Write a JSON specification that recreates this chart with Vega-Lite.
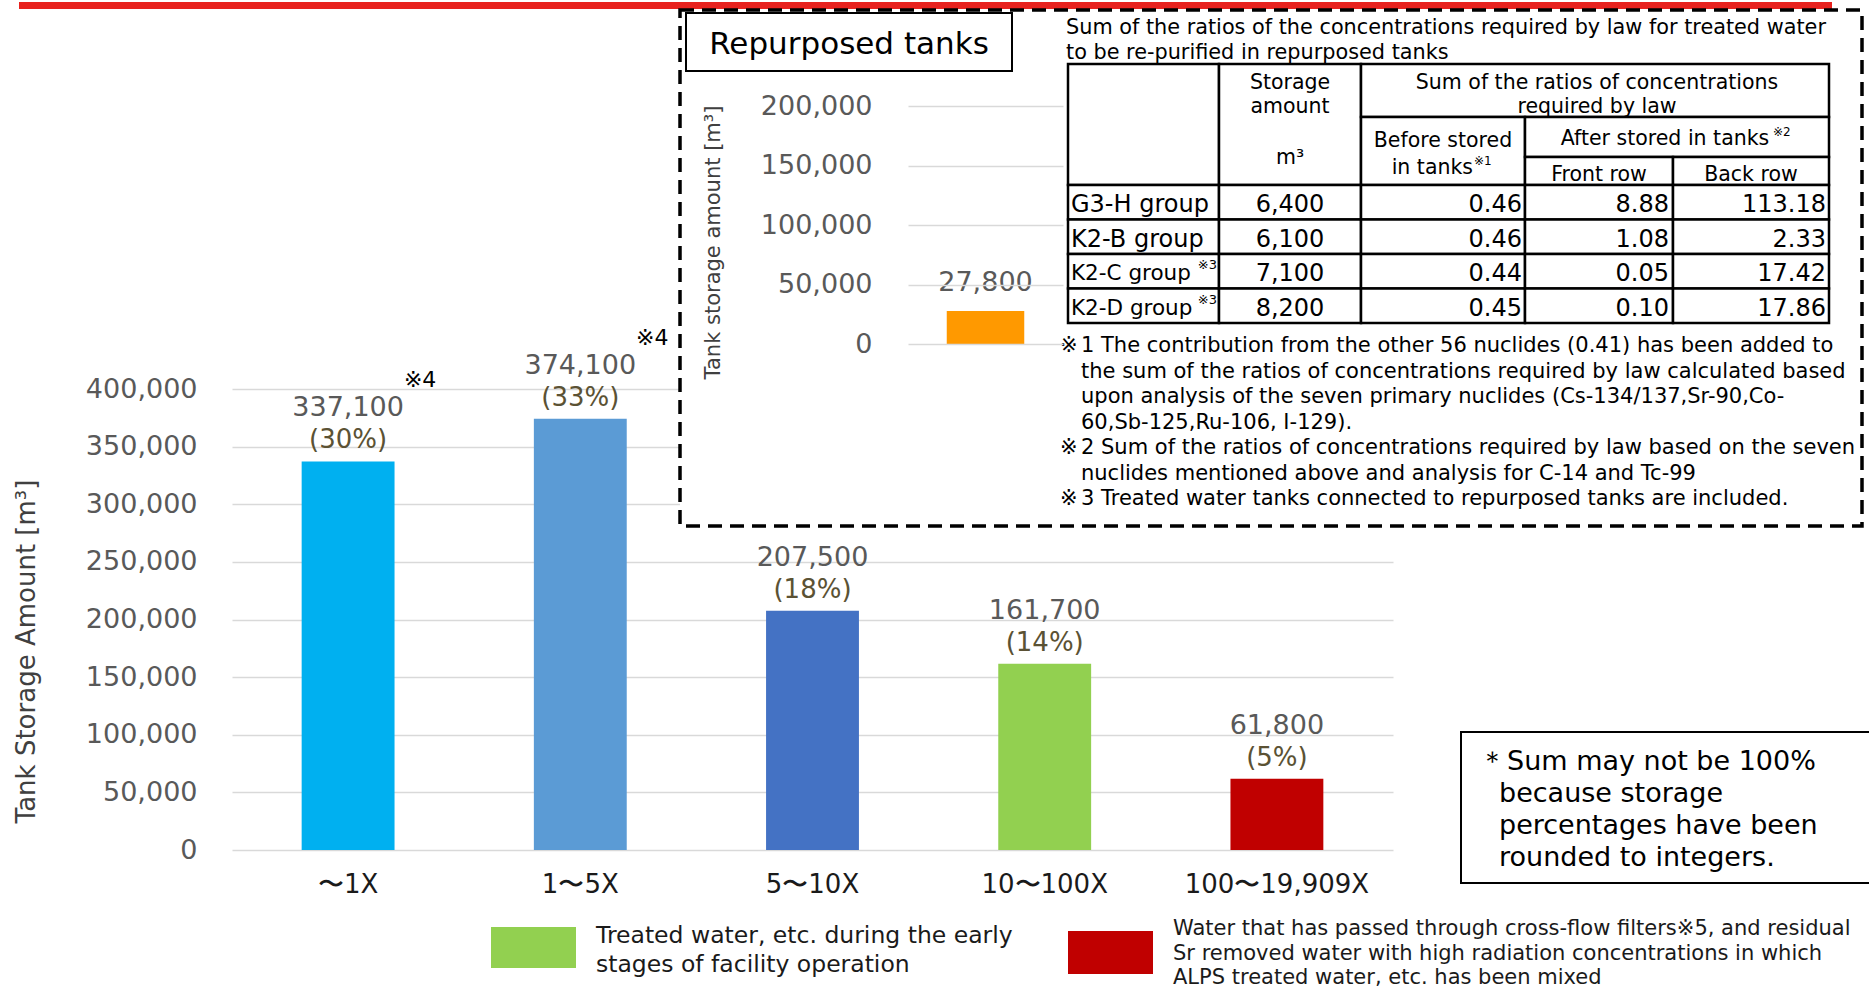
{
  "$schema": "https://vega.github.io/schema/vega-lite/v6.json",
  "width": 1161,
  "height": 461,
  "autosize": {"type": "none"},
  "padding": {"left": 232, "top": 389, "right": 476, "bottom": 138},
  "background": "white",
  "config": {"view": {"stroke": null}, "font": "DejaVu Sans", "text": {"font": "DejaVu Sans", "color": "black"}},
  "datasets": {
    "bars": [
      {"range": "〜1X", "amount": 337100, "share": "(30%)", "note": "※4"},
      {"range": "1〜5X", "amount": 374100, "share": "(33%)", "note": "※4"},
      {"range": "5〜10X", "amount": 207500, "share": "(18%)", "note": ""},
      {"range": "10〜100X", "amount": 161700, "share": "(14%)", "note": ""},
      {"range": "100〜19,909X", "amount": 61800, "share": "(5%)", "note": ""}
    ],
    "repurposed": [{"tanks": "Repurposed tanks", "amount": 27800}],
    "groups": [
      {"group": "G3-H group", "sup": "", "storage": 6400, "before": 0.46, "front": 8.88, "back": 113.18},
      {"group": "K2-B group", "sup": "", "storage": 6100, "before": 0.46, "front": 1.08, "back": 2.33},
      {"group": "K2-C group", "sup": "※3", "storage": 7100, "before": 0.44, "front": 0.05, "back": 17.42},
      {"group": "K2-D group", "sup": "※3", "storage": 8200, "before": 0.45, "front": 0.10, "back": 17.86}
    ]
  },
  "resolve": {"scale": {"x": "independent", "y": "independent", "color": "independent", "size": "independent"}, "axis": {"x": "independent", "y": "independent"}},
  "layer": [
    {
      "data": {"name": "bars"},
      "encoding": {
        "x": {"field": "range", "type": "nominal", "sort": null, "scale": {"paddingInner": 0.6, "paddingOuter": 0.3},
          "axis": {"orient": "bottom", "title": null, "labelAngle": 0, "labelFontSize": 26, "labelColor": "#1a1a1a", "labelPadding": 21, "labelLimit": 0, "domain": false, "ticks": false}},
        "y": {"field": "amount", "type": "quantitative", "scale": {"domain": [0, 400000], "nice": false},
          "axis": {"orient": "left", "values": [0, 50000, 100000, 150000, 200000, 250000, 300000, 350000, 400000], "format": ",d", "grid": true, "gridColor": "#d9d9d9", "gridWidth": 1.5, "domain": false, "ticks": false, "labelFontSize": 27, "labelColor": "#595959", "labelPadding": 35, "title": "Tank Storage Amount [m³]", "titleFontSize": 26, "titleFontWeight": "normal", "titleColor": "#404040", "titleX": -206, "titleY": 262, "titleAngle": 270, "titleAlign": "center", "titleBaseline": "middle"}}
      },
      "layer": [
        {"mark": {"type": "bar"}, "encoding": {"color": {"field": "range", "type": "nominal", "sort": null, "scale": {"domain": ["〜1X", "1〜5X", "5〜10X", "10〜100X", "100〜19,909X"], "range": ["#00B0F0", "#5B9BD5", "#4472C4", "#92D050", "#C00000"]}, "legend": null}}},
        {"mark": {"type": "text", "baseline": "middle", "dy": -53, "fontSize": 27, "color": "#595959"}, "encoding": {"text": {"field": "amount", "type": "quantitative", "format": ",d"}}},
        {"mark": {"type": "text", "baseline": "middle", "dy": -21, "fontSize": 26, "color": "#5b5234"}, "encoding": {"text": {"field": "share", "type": "nominal"}}},
        {"mark": {"type": "text", "baseline": "middle", "dx": 72, "dy": -81, "fontSize": 22, "color": "black"}, "encoding": {"text": {"field": "note", "type": "nominal"}}}
      ]
    },
    {
      "data": {"values": [{}]},
      "layer": [
        {"mark": {"type": "rule", "color": "#E8221E", "strokeWidth": 7},
          "encoding": {"x": {"datum": 19, "type": "quantitative", "scale": {"domain": [0, 1869], "range": [-232, 1637], "zero": false, "nice": false}, "axis": null}, "x2": {"datum": 1832},
            "y": {"datum": 5.5, "type": "quantitative", "scale": {"domain": [0, 988], "range": [-389, 599], "zero": false, "nice": false}, "axis": null}}},
        {"mark": {"type": "rect", "fill": "white", "stroke": "black", "strokeWidth": 3.5, "strokeDash": [14, 8]},
          "encoding": {"x": {"datum": 680, "type": "quantitative", "scale": {"domain": [0, 1869], "range": [-232, 1637], "zero": false, "nice": false}, "axis": null}, "x2": {"datum": 1862},
            "y": {"datum": 10, "type": "quantitative", "scale": {"domain": [0, 988], "range": [-389, 599], "zero": false, "nice": false}, "axis": null}, "y2": {"datum": 526}}},
        {"mark": {"type": "rect", "fill": "white", "stroke": "black", "strokeWidth": 2},
          "encoding": {"x": {"datum": 686, "type": "quantitative", "scale": {"domain": [0, 1869], "range": [-232, 1637], "zero": false, "nice": false}, "axis": null}, "x2": {"datum": 1012},
            "y": {"datum": 13, "type": "quantitative", "scale": {"domain": [0, 988], "range": [-389, 599], "zero": false, "nice": false}, "axis": null}, "y2": {"datum": 71}}},
        {"mark": {"type": "text", "text": "Repurposed tanks", "align": "center", "baseline": "middle", "fontSize": 31, "color": "black"},
          "encoding": {"x": {"datum": 849, "type": "quantitative", "scale": {"domain": [0, 1869], "range": [-232, 1637], "zero": false, "nice": false}, "axis": null},
            "y": {"datum": 45, "type": "quantitative", "scale": {"domain": [0, 988], "range": [-389, 599], "zero": false, "nice": false}, "axis": null}}},
        {"mark": {"type": "text", "text": ["Sum of the ratios of the concentrations required by law for treated water", "to be re-purified in repurposed tanks"], "align": "left", "baseline": "alphabetic", "fontSize": 20.8, "lineHeight": 24.5, "color": "black"},
          "encoding": {"x": {"datum": 1066, "type": "quantitative", "scale": {"domain": [0, 1869], "range": [-232, 1637], "zero": false, "nice": false}, "axis": null},
            "y": {"datum": 34, "type": "quantitative", "scale": {"domain": [0, 988], "range": [-389, 599], "zero": false, "nice": false}, "axis": null}}},
        {"mark": {"type": "rect", "fill": "white", "stroke": "black", "strokeWidth": 2.5},
          "encoding": {"x": {"datum": 1068, "type": "quantitative", "scale": {"domain": [0, 1869], "range": [-232, 1637], "zero": false, "nice": false}, "axis": null}, "x2": {"datum": 1219},
            "y": {"datum": 64, "type": "quantitative", "scale": {"domain": [0, 988], "range": [-389, 599], "zero": false, "nice": false}, "axis": null}, "y2": {"datum": 185}}},
        {"mark": {"type": "rect", "fill": "white", "stroke": "black", "strokeWidth": 2.5},
          "encoding": {"x": {"datum": 1219, "type": "quantitative", "scale": {"domain": [0, 1869], "range": [-232, 1637], "zero": false, "nice": false}, "axis": null}, "x2": {"datum": 1361},
            "y": {"datum": 64, "type": "quantitative", "scale": {"domain": [0, 988], "range": [-389, 599], "zero": false, "nice": false}, "axis": null}, "y2": {"datum": 185}}},
        {"mark": {"type": "rect", "fill": "white", "stroke": "black", "strokeWidth": 2.5},
          "encoding": {"x": {"datum": 1361, "type": "quantitative", "scale": {"domain": [0, 1869], "range": [-232, 1637], "zero": false, "nice": false}, "axis": null}, "x2": {"datum": 1829},
            "y": {"datum": 64, "type": "quantitative", "scale": {"domain": [0, 988], "range": [-389, 599], "zero": false, "nice": false}, "axis": null}, "y2": {"datum": 117}}},
        {"mark": {"type": "rect", "fill": "white", "stroke": "black", "strokeWidth": 2.5},
          "encoding": {"x": {"datum": 1361, "type": "quantitative", "scale": {"domain": [0, 1869], "range": [-232, 1637], "zero": false, "nice": false}, "axis": null}, "x2": {"datum": 1525},
            "y": {"datum": 117, "type": "quantitative", "scale": {"domain": [0, 988], "range": [-389, 599], "zero": false, "nice": false}, "axis": null}, "y2": {"datum": 185}}},
        {"mark": {"type": "rect", "fill": "white", "stroke": "black", "strokeWidth": 2.5},
          "encoding": {"x": {"datum": 1525, "type": "quantitative", "scale": {"domain": [0, 1869], "range": [-232, 1637], "zero": false, "nice": false}, "axis": null}, "x2": {"datum": 1829},
            "y": {"datum": 117, "type": "quantitative", "scale": {"domain": [0, 988], "range": [-389, 599], "zero": false, "nice": false}, "axis": null}, "y2": {"datum": 157}}},
        {"mark": {"type": "rect", "fill": "white", "stroke": "black", "strokeWidth": 2.5},
          "encoding": {"x": {"datum": 1525, "type": "quantitative", "scale": {"domain": [0, 1869], "range": [-232, 1637], "zero": false, "nice": false}, "axis": null}, "x2": {"datum": 1673},
            "y": {"datum": 157, "type": "quantitative", "scale": {"domain": [0, 988], "range": [-389, 599], "zero": false, "nice": false}, "axis": null}, "y2": {"datum": 185}}},
        {"mark": {"type": "rect", "fill": "white", "stroke": "black", "strokeWidth": 2.5},
          "encoding": {"x": {"datum": 1673, "type": "quantitative", "scale": {"domain": [0, 1869], "range": [-232, 1637], "zero": false, "nice": false}, "axis": null}, "x2": {"datum": 1829},
            "y": {"datum": 157, "type": "quantitative", "scale": {"domain": [0, 988], "range": [-389, 599], "zero": false, "nice": false}, "axis": null}, "y2": {"datum": 185}}},
        {"mark": {"type": "text", "text": ["Storage", "amount"], "align": "center", "baseline": "alphabetic", "fontSize": 20.5, "lineHeight": 24, "color": "black"},
          "encoding": {"x": {"datum": 1290, "type": "quantitative", "scale": {"domain": [0, 1869], "range": [-232, 1637], "zero": false, "nice": false}, "axis": null},
            "y": {"datum": 89, "type": "quantitative", "scale": {"domain": [0, 988], "range": [-389, 599], "zero": false, "nice": false}, "axis": null}}},
        {"mark": {"type": "text", "text": "m³", "align": "center", "baseline": "alphabetic", "fontSize": 20.5, "color": "black"},
          "encoding": {"x": {"datum": 1290, "type": "quantitative", "scale": {"domain": [0, 1869], "range": [-232, 1637], "zero": false, "nice": false}, "axis": null},
            "y": {"datum": 164, "type": "quantitative", "scale": {"domain": [0, 988], "range": [-389, 599], "zero": false, "nice": false}, "axis": null}}},
        {"mark": {"type": "text", "text": ["Sum of the ratios of concentrations", "required by law"], "align": "center", "baseline": "alphabetic", "fontSize": 20.5, "lineHeight": 24, "color": "black"},
          "encoding": {"x": {"datum": 1597, "type": "quantitative", "scale": {"domain": [0, 1869], "range": [-232, 1637], "zero": false, "nice": false}, "axis": null},
            "y": {"datum": 89, "type": "quantitative", "scale": {"domain": [0, 988], "range": [-389, 599], "zero": false, "nice": false}, "axis": null}}},
        {"mark": {"type": "text", "text": "Before stored", "align": "center", "baseline": "alphabetic", "fontSize": 20.5, "color": "black"},
          "encoding": {"x": {"datum": 1443, "type": "quantitative", "scale": {"domain": [0, 1869], "range": [-232, 1637], "zero": false, "nice": false}, "axis": null},
            "y": {"datum": 147, "type": "quantitative", "scale": {"domain": [0, 988], "range": [-389, 599], "zero": false, "nice": false}, "axis": null}}},
        {"mark": {"type": "text", "text": "in tanks", "align": "right", "baseline": "alphabetic", "fontSize": 20.5, "color": "black"},
          "encoding": {"x": {"datum": 1473, "type": "quantitative", "scale": {"domain": [0, 1869], "range": [-232, 1637], "zero": false, "nice": false}, "axis": null},
            "y": {"datum": 174, "type": "quantitative", "scale": {"domain": [0, 988], "range": [-389, 599], "zero": false, "nice": false}, "axis": null}}},
        {"mark": {"type": "text", "text": "※1", "align": "left", "baseline": "alphabetic", "fontSize": 12, "color": "black"},
          "encoding": {"x": {"datum": 1474, "type": "quantitative", "scale": {"domain": [0, 1869], "range": [-232, 1637], "zero": false, "nice": false}, "axis": null},
            "y": {"datum": 165, "type": "quantitative", "scale": {"domain": [0, 988], "range": [-389, 599], "zero": false, "nice": false}, "axis": null}}},
        {"mark": {"type": "text", "text": "After stored in tanks", "align": "center", "baseline": "alphabetic", "fontSize": 20.5, "color": "black"},
          "encoding": {"x": {"datum": 1665, "type": "quantitative", "scale": {"domain": [0, 1869], "range": [-232, 1637], "zero": false, "nice": false}, "axis": null},
            "y": {"datum": 145, "type": "quantitative", "scale": {"domain": [0, 988], "range": [-389, 599], "zero": false, "nice": false}, "axis": null}}},
        {"mark": {"type": "text", "text": "※2", "align": "left", "baseline": "alphabetic", "fontSize": 12, "color": "black"},
          "encoding": {"x": {"datum": 1773, "type": "quantitative", "scale": {"domain": [0, 1869], "range": [-232, 1637], "zero": false, "nice": false}, "axis": null},
            "y": {"datum": 136, "type": "quantitative", "scale": {"domain": [0, 988], "range": [-389, 599], "zero": false, "nice": false}, "axis": null}}},
        {"mark": {"type": "text", "text": "Front row", "align": "center", "baseline": "alphabetic", "fontSize": 20.5, "color": "black"},
          "encoding": {"x": {"datum": 1599, "type": "quantitative", "scale": {"domain": [0, 1869], "range": [-232, 1637], "zero": false, "nice": false}, "axis": null},
            "y": {"datum": 181, "type": "quantitative", "scale": {"domain": [0, 988], "range": [-389, 599], "zero": false, "nice": false}, "axis": null}}},
        {"mark": {"type": "text", "text": "Back row", "align": "center", "baseline": "alphabetic", "fontSize": 20.5, "color": "black"},
          "encoding": {"x": {"datum": 1751, "type": "quantitative", "scale": {"domain": [0, 1869], "range": [-232, 1637], "zero": false, "nice": false}, "axis": null},
            "y": {"datum": 181, "type": "quantitative", "scale": {"domain": [0, 988], "range": [-389, 599], "zero": false, "nice": false}, "axis": null}}},
        {"mark": {"type": "text", "text": "※", "align": "left", "baseline": "alphabetic", "fontSize": 21, "color": "black"},
          "encoding": {"x": {"datum": 1060, "type": "quantitative", "scale": {"domain": [0, 1869], "range": [-232, 1637], "zero": false, "nice": false}, "axis": null},
            "y": {"datum": 352, "type": "quantitative", "scale": {"domain": [0, 988], "range": [-389, 599], "zero": false, "nice": false}, "axis": null}}},
        {"mark": {"type": "text", "text": "※", "align": "left", "baseline": "alphabetic", "fontSize": 21, "color": "black"},
          "encoding": {"x": {"datum": 1060, "type": "quantitative", "scale": {"domain": [0, 1869], "range": [-232, 1637], "zero": false, "nice": false}, "axis": null},
            "y": {"datum": 454, "type": "quantitative", "scale": {"domain": [0, 988], "range": [-389, 599], "zero": false, "nice": false}, "axis": null}}},
        {"mark": {"type": "text", "text": "※", "align": "left", "baseline": "alphabetic", "fontSize": 21, "color": "black"},
          "encoding": {"x": {"datum": 1060, "type": "quantitative", "scale": {"domain": [0, 1869], "range": [-232, 1637], "zero": false, "nice": false}, "axis": null},
            "y": {"datum": 505, "type": "quantitative", "scale": {"domain": [0, 988], "range": [-389, 599], "zero": false, "nice": false}, "axis": null}}},
        {"mark": {"type": "text", "text": ["1 The contribution from the other 56 nuclides (0.41) has been added to", "the sum of the ratios of concentrations required by law calculated based", "upon analysis of the seven primary nuclides (Cs-134/137,Sr-90,Co-", "60,Sb-125,Ru-106, I-129).", "2 Sum of the ratios of concentrations required by law based on the seven", "nuclides mentioned above and analysis for C-14 and Tc-99", "3 Treated water tanks connected to repurposed tanks are included."], "align": "left", "baseline": "alphabetic", "fontSize": 21, "lineHeight": 25.5, "color": "black"},
          "encoding": {"x": {"datum": 1081, "type": "quantitative", "scale": {"domain": [0, 1869], "range": [-232, 1637], "zero": false, "nice": false}, "axis": null},
            "y": {"datum": 352, "type": "quantitative", "scale": {"domain": [0, 988], "range": [-389, 599], "zero": false, "nice": false}, "axis": null}}},
        {"mark": {"type": "rect", "fill": "white", "stroke": "black", "strokeWidth": 2},
          "encoding": {"x": {"datum": 1461, "type": "quantitative", "scale": {"domain": [0, 1869], "range": [-232, 1637], "zero": false, "nice": false}, "axis": null}, "x2": {"datum": 1880},
            "y": {"datum": 732, "type": "quantitative", "scale": {"domain": [0, 988], "range": [-389, 599], "zero": false, "nice": false}, "axis": null}, "y2": {"datum": 883}}},
        {"mark": {"type": "text", "text": "＊", "align": "left", "baseline": "alphabetic", "fontSize": 27, "color": "black"},
          "encoding": {"x": {"datum": 1479, "type": "quantitative", "scale": {"domain": [0, 1869], "range": [-232, 1637], "zero": false, "nice": false}, "axis": null},
            "y": {"datum": 770, "type": "quantitative", "scale": {"domain": [0, 988], "range": [-389, 599], "zero": false, "nice": false}, "axis": null}}},
        {"mark": {"type": "text", "text": "Sum may not be 100%", "align": "left", "baseline": "alphabetic", "fontSize": 27, "color": "black"},
          "encoding": {"x": {"datum": 1507, "type": "quantitative", "scale": {"domain": [0, 1869], "range": [-232, 1637], "zero": false, "nice": false}, "axis": null},
            "y": {"datum": 770, "type": "quantitative", "scale": {"domain": [0, 988], "range": [-389, 599], "zero": false, "nice": false}, "axis": null}}},
        {"mark": {"type": "text", "text": ["because storage", "percentages have been", "rounded to integers."], "align": "left", "baseline": "alphabetic", "fontSize": 27, "lineHeight": 32, "color": "black"},
          "encoding": {"x": {"datum": 1499, "type": "quantitative", "scale": {"domain": [0, 1869], "range": [-232, 1637], "zero": false, "nice": false}, "axis": null},
            "y": {"datum": 802, "type": "quantitative", "scale": {"domain": [0, 988], "range": [-389, 599], "zero": false, "nice": false}, "axis": null}}},
        {"mark": {"type": "rect", "fill": "#92D050"},
          "encoding": {"x": {"datum": 491, "type": "quantitative", "scale": {"domain": [0, 1869], "range": [-232, 1637], "zero": false, "nice": false}, "axis": null}, "x2": {"datum": 576},
            "y": {"datum": 927, "type": "quantitative", "scale": {"domain": [0, 988], "range": [-389, 599], "zero": false, "nice": false}, "axis": null}, "y2": {"datum": 968}}},
        {"mark": {"type": "text", "text": ["Treated water, etc. during the early", "stages of facility operation"], "align": "left", "baseline": "alphabetic", "fontSize": 23.5, "lineHeight": 28.5, "color": "#1a1a1a"},
          "encoding": {"x": {"datum": 596, "type": "quantitative", "scale": {"domain": [0, 1869], "range": [-232, 1637], "zero": false, "nice": false}, "axis": null},
            "y": {"datum": 943, "type": "quantitative", "scale": {"domain": [0, 988], "range": [-389, 599], "zero": false, "nice": false}, "axis": null}}},
        {"mark": {"type": "rect", "fill": "#C00000"},
          "encoding": {"x": {"datum": 1068, "type": "quantitative", "scale": {"domain": [0, 1869], "range": [-232, 1637], "zero": false, "nice": false}, "axis": null}, "x2": {"datum": 1153},
            "y": {"datum": 931, "type": "quantitative", "scale": {"domain": [0, 988], "range": [-389, 599], "zero": false, "nice": false}, "axis": null}, "y2": {"datum": 974}}},
        {"mark": {"type": "text", "text": ["Water that has passed through cross-flow filters※5, and residual", "Sr removed water with high radiation concentrations in which", "ALPS treated water, etc. has been mixed"], "align": "left", "baseline": "alphabetic", "fontSize": 21, "lineHeight": 24.5, "color": "#1a1a1a"},
          "encoding": {"x": {"datum": 1173, "type": "quantitative", "scale": {"domain": [0, 1869], "range": [-232, 1637], "zero": false, "nice": false}, "axis": null},
            "y": {"datum": 935, "type": "quantitative", "scale": {"domain": [0, 988], "range": [-389, 599], "zero": false, "nice": false}, "axis": null}}}
      ]
    },
    {
      "data": {"name": "repurposed"},
      "encoding": {
        "x": {"field": "tanks", "type": "nominal", "scale": {"range": [676, 831], "paddingInner": 0.5, "paddingOuter": 0.25}, "axis": null},
        "y": {"field": "amount", "type": "quantitative", "scale": {"domain": [0, 200000], "range": [-45, -283], "nice": false},
          "axis": {"orient": "left", "offset": -676, "values": [0, 50000, 100000, 150000, 200000], "format": ",d", "grid": true, "gridColor": "#d9d9d9", "gridWidth": 1.5, "domain": false, "ticks": false, "labelFontSize": 27, "labelColor": "#595959", "labelPadding": 36, "title": "Tank storage amount [m³]", "titleFontSize": 21, "titleFontWeight": "normal", "titleColor": "#404040", "titleX": -195, "titleY": -147, "titleAngle": 270, "titleAlign": "center", "titleBaseline": "middle", "zindex": 1}}
      },
      "layer": [
        {"mark": {"type": "bar", "color": "#FF9900"}},
        {"mark": {"type": "text", "baseline": "middle", "dy": -28, "fontSize": 27, "color": "#595959"}, "encoding": {"text": {"field": "amount", "type": "quantitative", "format": ",d"}}}
      ]
    },
    {
      "data": {"name": "groups"},
      "encoding": {
        "y": {"field": "group", "type": "nominal", "sort": null, "scale": {"domain": ["G3-H group", "K2-B group", "K2-C group", "K2-D group"], "range": [-204, -66], "paddingInner": 0, "paddingOuter": 0}, "axis": null}
      },
      "layer": [
        {"mark": {"type": "rect", "fill": "white", "stroke": "black", "strokeWidth": 2.5},
          "encoding": {"x": {"datum": 1068, "type": "quantitative", "scale": {"domain": [0, 1869], "range": [-232, 1637], "zero": false, "nice": false}, "axis": null}, "x2": {"datum": 1219}}},
        {"mark": {"type": "rect", "fill": "white", "stroke": "black", "strokeWidth": 2.5},
          "encoding": {"x": {"datum": 1219, "type": "quantitative", "scale": {"domain": [0, 1869], "range": [-232, 1637], "zero": false, "nice": false}, "axis": null}, "x2": {"datum": 1361}}},
        {"mark": {"type": "rect", "fill": "white", "stroke": "black", "strokeWidth": 2.5},
          "encoding": {"x": {"datum": 1361, "type": "quantitative", "scale": {"domain": [0, 1869], "range": [-232, 1637], "zero": false, "nice": false}, "axis": null}, "x2": {"datum": 1525}}},
        {"mark": {"type": "rect", "fill": "white", "stroke": "black", "strokeWidth": 2.5},
          "encoding": {"x": {"datum": 1525, "type": "quantitative", "scale": {"domain": [0, 1869], "range": [-232, 1637], "zero": false, "nice": false}, "axis": null}, "x2": {"datum": 1673}}},
        {"mark": {"type": "rect", "fill": "white", "stroke": "black", "strokeWidth": 2.5},
          "encoding": {"x": {"datum": 1673, "type": "quantitative", "scale": {"domain": [0, 1869], "range": [-232, 1637], "zero": false, "nice": false}, "axis": null}, "x2": {"datum": 1829}}},
        {"mark": {"type": "text", "align": "left", "baseline": "middle", "dy": 3, "color": "black"},
          "encoding": {"x": {"datum": 1071, "type": "quantitative", "scale": {"domain": [0, 1869], "range": [-232, 1637], "zero": false, "nice": false}, "axis": null}, "text": {"field": "group", "type": "nominal"},
            "size": {"field": "sup", "type": "ordinal", "scale": {"domain": ["", "※3"], "range": [24, 21.5]}, "legend": null}}},
        {"mark": {"type": "text", "align": "right", "baseline": "middle", "dy": -6, "fontSize": 13, "color": "black"},
          "encoding": {"x": {"datum": 1217, "type": "quantitative", "scale": {"domain": [0, 1869], "range": [-232, 1637], "zero": false, "nice": false}, "axis": null}, "text": {"field": "sup", "type": "nominal"}}},
        {"mark": {"type": "text", "align": "center", "baseline": "middle", "dy": 3, "fontSize": 24, "color": "black"},
          "encoding": {"x": {"datum": 1290, "type": "quantitative", "scale": {"domain": [0, 1869], "range": [-232, 1637], "zero": false, "nice": false}, "axis": null}, "text": {"field": "storage", "type": "quantitative", "format": ",d"}}},
        {"mark": {"type": "text", "align": "right", "baseline": "middle", "dy": 3, "fontSize": 24, "color": "black"},
          "encoding": {"x": {"datum": 1522, "type": "quantitative", "scale": {"domain": [0, 1869], "range": [-232, 1637], "zero": false, "nice": false}, "axis": null}, "text": {"field": "before", "type": "quantitative", "format": ".2f"}}},
        {"mark": {"type": "text", "align": "right", "baseline": "middle", "dy": 3, "fontSize": 24, "color": "black"},
          "encoding": {"x": {"datum": 1669, "type": "quantitative", "scale": {"domain": [0, 1869], "range": [-232, 1637], "zero": false, "nice": false}, "axis": null}, "text": {"field": "front", "type": "quantitative", "format": ".2f"}}},
        {"mark": {"type": "text", "align": "right", "baseline": "middle", "dy": 3, "fontSize": 24, "color": "black"},
          "encoding": {"x": {"datum": 1826, "type": "quantitative", "scale": {"domain": [0, 1869], "range": [-232, 1637], "zero": false, "nice": false}, "axis": null}, "text": {"field": "back", "type": "quantitative", "format": ".2f"}}}
      ]
    }
  ]
}
